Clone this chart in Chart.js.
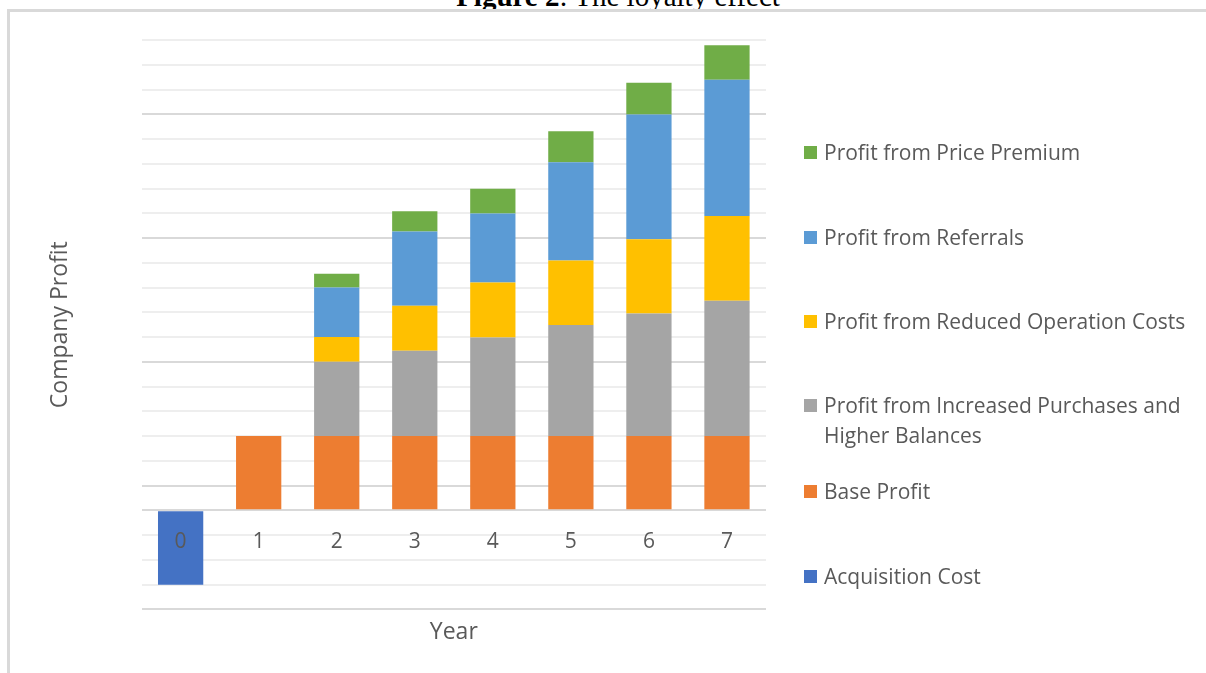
<!DOCTYPE html>
<html>
<head>
<meta charset="utf-8">
<title>The loyalty effect</title>
<script src="https://cdn.jsdelivr.net/npm/chart.js@4"></script>
<style>
    body { margin: 0; background: #ffffff; overflow: hidden; }
    #wrap { position: relative; width: 1206px; height: 673px; }
    #fig-title {
        position: absolute; left: 0; width: 1236px; top: -18px;
        text-align: center; font: 29px/29px "Liberation Serif", "Times New Roman", serif; color: #000;
        white-space: nowrap;
    }
    #frame {
        position: absolute; left: 7px; top: 9px; width: 1199px; height: 664px;
        border-top: 3px solid #d9d9d9; border-left: 3px solid #d9d9d9; box-sizing: border-box;
    }
    #chart { position: absolute; left: 0; top: 0; }
    .legend-item {
        position: absolute; left: 804px; width: 390px;
        font: 21px/30px "Open Sans", sans-serif; color: #595959;
    }
    .legend-item .swatch {
        position: absolute; left: 0; top: 9px; width: 13px; height: 13px;
    }
    .legend-item .label { position: absolute; left: 20px; top: 0; width: 370px; }
</style>
</head>
<body>
<div id="wrap">
    <div id="fig-title"><b>Figure 2</b>: The loyalty effect</div>
    <div id="frame"></div>
    <canvas id="chart" width="1206" height="673"></canvas>
    <div id="legend"></div>
</div>
<script>
// Chart data (units = one gridline step)
const years = ["0", "1", "2", "3", "4", "5", "6", "7"];
const acquisitionCost = [-3, null, null, null, null, null, null, null];
const baseProfit = [null, 3, 3, 3, 3, 3, 3, 3];
const increasedPurchases = [null, null, 3, 3.45, 3.98, 4.49, 4.95, 5.47];
const reducedCosts = [null, null, 1, 1.82, 2.22, 2.6, 3.0, 3.42];
const referrals = [null, null, 2, 2.99, 2.79, 3.97, 5.04, 5.5];
const pricePremium = [null, null, 0.56, 0.82, 1.0, 1.25, 1.28, 1.4];

const seriesNames = [
    "Acquisition Cost",
    "Base Profit",
    "Profit from Increased Purchases and Higher Balances",
    "Profit from Reduced Operation Costs",
    "Profit from Referrals",
    "Profit from Price Premium"
];
const seriesValues = [acquisitionCost, baseProfit, increasedPurchases, reducedCosts, referrals, pricePremium];
const seriesColors = ["#4472C4", "#ED7D31", "#A5A5A5", "#FFC000", "#5B9BD5", "#70AD47"];

// legend rows, top to bottom (centre of first text line)
const legendRows = [152, 237, 321, 405, 491, 576];

const datasets = seriesNames.map((name, i) => ({
    label: name,
    data: seriesValues[i],
    backgroundColor: seriesColors[i],
    borderWidth: 0,
    categoryPercentage: 1,
    barPercentage: 0.58
}));

// gridlines: darker every 5 steps from the bottom, plus the zero line
function gridColor(ctx) {
    const v = ctx.tick ? ctx.tick.value : 0;
    if (v === 0 || (v + 4) % 5 === 0) return "#d9d9d9";
    return "#eeeeee";
}

const ctx = document.getElementById("chart").getContext("2d");
new Chart(ctx, {
    type: "bar",
    data: { labels: years, datasets: datasets },
    options: {
        responsive: false,
        animation: false,
        layout: { padding: { left: 43, right: 440, top: 40, bottom: 23 } },
        plugins: { legend: { display: false }, tooltip: { enabled: false } },
        scales: {
            x: {
                stacked: true,
                position: { y: 0 },
                grid: { display: false, drawTicks: false },
                border: { display: false },
                ticks: {
                    z: 1, // labels over the bars, like the "0" on the cost bar
                    padding: 19,
                    color: "#595959",
                    font: { family: "'Open Sans', sans-serif", size: 21 }
                }
            },
            xTitle: {
                type: "category",
                labels: years,
                position: "bottom",
                grid: { display: false, drawTicks: false },
                border: { display: false },
                ticks: { display: false },
                title: {
                    display: true,
                    text: "Year",
                    color: "#595959",
                    padding: { top: 9, bottom: 4 },
                    font: { family: "'Open Sans', sans-serif", size: 23 }
                }
            },
            y: {
                stacked: true,
                min: -4,
                max: 19,
                grid: { color: gridColor, lineWidth: 2, drawTicks: false },
                border: { display: false },
                ticks: { display: false, stepSize: 1 },
                title: {
                    display: true,
                    text: "Company Profit",
                    color: "#595959",
                    padding: { top: 4, bottom: 67 },
                    font: { family: "'Open Sans', sans-serif", size: 23 }
                }
            }
        }
    }
});

// HTML legend, listed in reverse stacking order
const legend = document.getElementById("legend");
seriesNames.slice().reverse().forEach((name, i) => {
    const idx = seriesNames.length - 1 - i;
    const item = document.createElement("div");
    item.className = "legend-item";
    item.style.top = (legendRows[i] - 15.5) + "px";
    item.innerHTML = `<span class="swatch" style="background:${seriesColors[idx]}"></span><span class="label">${name}</span>`;
    legend.appendChild(item);
});
</script>
</body>
</html>
